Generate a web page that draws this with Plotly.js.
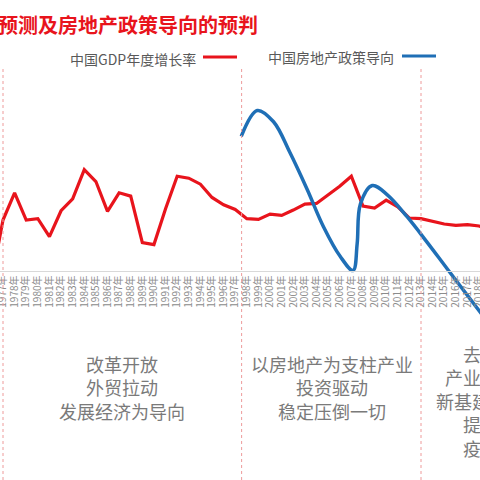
<!DOCTYPE html>
<html>
<head>
<meta charset="utf-8">
<script src="https://cdn.plot.ly/plotly-3.0.1.min.js"></script>
<style>html,body{margin:0;padding:0;background:#fff;}#chart{width:480px;height:480px;}</style>
</head>
<body>
<div id="chart"></div>
<script>
// GDP growth (%) by year
const gdpYears = [1976,1977,1978,1979,1980,1981,1982,1983,1984,1985,1986,1987,1988,1989,1990,1991,1992,1993,1994,1995,1996,1997,1998,1999,2000,2001,2002,2003,2004,2005,2006,2007,2008,2009,2010,2011,2012,2013,2014,2015,2016,2017,2018,2019];
const gdpValues = [-1.6,7.6,11.7,7.6,7.8,5.1,9.0,10.8,15.2,13.4,8.9,11.7,11.2,4.2,3.9,9.3,14.2,13.9,13.0,11.0,9.9,9.2,7.8,7.7,8.5,8.3,9.1,10.0,10.1,11.4,12.7,14.2,9.7,9.4,10.6,9.6,7.9,7.8,7.4,7.0,6.8,6.9,6.7,6.0];
// Real-estate policy orientation (schematic curve)
const policyX = [1997.52,1998.9,2000.3,2001.7,2003.2,2004.6,2006.05,2007.15,2007.5,2007.78,2008.8,2010.1,2011.8,2013.55,2015.3,2018.5];
const policyY = [20.2,24.1,22.4,17.8,12.2,6.6,2.1,0.0,4,10,12.8,11.4,8.1,4.2,0.15,-7.2];
// tick labels
const tickYears = [];
for (let y = 1977; y <= 2019; y++) tickYears.push(y);
const tickLabels = tickYears.map(y => y + '年');
// period dividers & texts
const dividerYears = [1977, 1997.55, 2013];
const seriesNames = ['中国GDP年度增长率', '中国房地产政策导向'];
const titleText = '中国经济增长预测及房地产政策导向的预判';
const periodTexts = ['改革开放<br>外贸拉动<br>发展经济为导向', '以房地产为支柱产业<br>投资驱动<br>稳定压倒一切', '去杠杆<br>产业链升级<br>新基建稳增长<br>提内需<br>疫情后'];

const RED = '#e8141c', BLUE = '#1f6fb6', GRAY = '#7a7a7a';
const FONT = '"Noto Sans CJK SC", "Noto Sans", sans-serif';
const W = 480, H = 480;
const px = v => v / W, py = v => 1 - v / H;

const traces = [
  {x: gdpYears, y: gdpValues, mode: 'lines', name: seriesNames[0], line: {color: RED, width: 3.2}, hoverinfo: 'skip'},
  {x: policyX, y: policyY, mode: 'lines', name: seriesNames[1], line: {color: BLUE, width: 3.5, shape: 'spline', smoothing: 1}, hoverinfo: 'skip'}
];

const shapes = dividerYears.map(d => ({type: 'line', xref: 'x', yref: 'paper', x0: d, x1: d, y0: 0, y1: py(68), line: {color: '#ee9a9a', width: 1, dash: 'dot'}}));
shapes.push({type: 'line', xref: 'paper', yref: 'paper', x0: px(203), x1: px(237), y0: py(57), y1: py(57), line: {color: RED, width: 3}});
shapes.push({type: 'line', xref: 'paper', yref: 'paper', x0: px(402), x1: px(436), y0: py(56), y1: py(56), line: {color: BLUE, width: 3}});

const annotations = [
  {text: '<b>' + titleText + '</b>', xref: 'paper', yref: 'paper', x: px(260), y: py(24), xanchor: 'right', yanchor: 'middle', showarrow: false, font: {family: FONT, size: 20, color: RED}},
  {text: seriesNames[0], xref: 'paper', yref: 'paper', x: px(198), y: py(59), xanchor: 'right', yanchor: 'middle', showarrow: false, font: {family: FONT, size: 14, color: '#595959'}},
  {text: seriesNames[1], xref: 'paper', yref: 'paper', x: px(396), y: py(57), xanchor: 'right', yanchor: 'middle', showarrow: false, font: {family: FONT, size: 14, color: '#595959'}},
  {text: periodTexts[0], xref: 'paper', yref: 'paper', x: px(122), y: py(387), xanchor: 'center', yanchor: 'middle', align: 'center', showarrow: false, font: {family: FONT, size: 18, color: GRAY}},
  {text: periodTexts[1], xref: 'paper', yref: 'paper', x: px(332), y: py(387), xanchor: 'center', yanchor: 'middle', align: 'center', showarrow: false, font: {family: FONT, size: 18, color: GRAY}},
  {text: periodTexts[2], xref: 'paper', yref: 'paper', x: px(490), y: py(401), xanchor: 'center', yanchor: 'middle', align: 'center', showarrow: false, font: {family: FONT, size: 18, color: GRAY}}
];

const pxPerYear = 418 / 36;
const x0 = 1977 - 3 / pxPerYear;
const x1 = x0 + W / pxPerYear;
const pxPerUnit = 6.64, zeroPx = 270.5;

const layout = {
  width: W, height: H,
  margin: {l: 0, r: 0, t: 0, b: 0},
  paper_bgcolor: '#fff', plot_bgcolor: '#fff',
  showlegend: false,
  font: {family: FONT},
  xaxis: {range: [x0, x1], anchor: 'free', position: 1 - zeroPx / H, tickmode: 'array', tickvals: tickYears, ticktext: tickLabels, tickangle: -90, ticklabeloverflow: 'allow', tickfont: {family: FONT, size: 10, color: '#8c8c8c'}, showline: true, linecolor: '#d9d9d9', linewidth: 1, showgrid: false, zeroline: false, ticks: ''},
  yaxis: {range: [-(H - zeroPx) / pxPerUnit, zeroPx / pxPerUnit], visible: false, showgrid: false, zeroline: false},
  shapes: shapes,
  annotations: annotations
};

Plotly.newPlot('chart', traces, layout, {staticPlot: true});
</script>
</body>
</html>
